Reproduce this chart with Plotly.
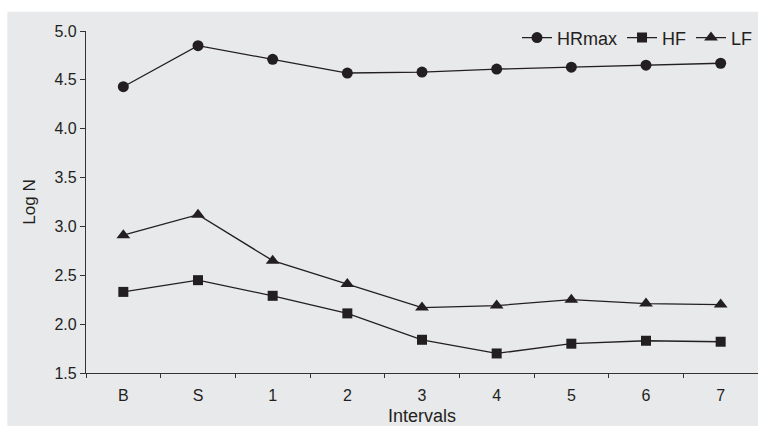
import plotly.graph_objects as go

categories = ["B", "S", "1", "2", "3", "4", "5", "6", "7"]
hrmax = [4.43, 4.85, 4.71, 4.57, 4.58, 4.61, 4.63, 4.65, 4.67]
hf = [2.33, 2.45, 2.29, 2.11, 1.84, 1.70, 1.80, 1.83, 1.82]
lf = [2.91, 3.12, 2.65, 2.41, 2.17, 2.19, 2.25, 2.21, 2.20]
y_ticks = [1.5, 2.0, 2.5, 3.0, 3.5, 4.0, 4.5, 5.0]
y_ticktext = [f"{v:.1f}" for v in y_ticks]

INK = "#231f20"
BG = "#e8e9eb"
FONT = "Liberation Sans, Arial, sans-serif"

fig = go.Figure()
series = [("HRmax", hrmax, "circle", 11), ("HF", hf, "square", 10), ("LF", lf, "triangle-up", 12)]
for name, vals, sym, size in series:
    fig.add_trace(go.Scatter(
        x=categories, y=vals, name=name, mode="lines+markers",
        line=dict(color=INK, width=1.3),
        marker=dict(symbol=sym, size=size, color=INK),
    ))

fig.update_layout(
    width=758, height=426,
    margin=dict(l=86, r=0, t=31, b=53),
    paper_bgcolor="white",
    plot_bgcolor="rgba(0,0,0,0)",
    font=dict(family=FONT, color=INK, size=16),
    showlegend=True,
    legend=dict(orientation="h", x=1.0, xanchor="right", y=0.98, yanchor="middle",
                bgcolor="rgba(0,0,0,0)", font=dict(size=18), itemwidth=30,
                tracegroupgap=0),
    shapes=[dict(type="rect", xref="paper", yref="paper",
                 x0=-0.117, x1=1.0, y0=-0.16, y1=1.056,
                 fillcolor=BG, line=dict(width=0), layer="below")],
)
fig.update_xaxes(
    type="category", categoryorder="array", categoryarray=categories,
    range=[-0.5, 8.5], showgrid=False, zeroline=False,
    showline=True, linecolor="#333333", linewidth=1.3,
    ticks="outside", tickson="boundaries", ticklen=4, tickcolor="#333333",
    tickfont=dict(size=16), ticklabelstandoff=8,
    title=dict(text="Intervals", font=dict(size=18), standoff=9),
)
fig.update_yaxes(
    range=[1.5, 5.0], tickvals=y_ticks, ticktext=y_ticktext,
    showgrid=False, zeroline=False,
    showline=True, linecolor="#333333", linewidth=1.3,
    ticks="outside", ticklen=5, tickcolor="#333333",
    tickfont=dict(size=16),
    title=dict(text="Log N", font=dict(size=17), standoff=14),
)

fig.write_html(
    "out.html",
    config={"displayModeBar": False},
    post_script="document.body.style.margin='0';document.body.style.overflow='hidden';",
)
